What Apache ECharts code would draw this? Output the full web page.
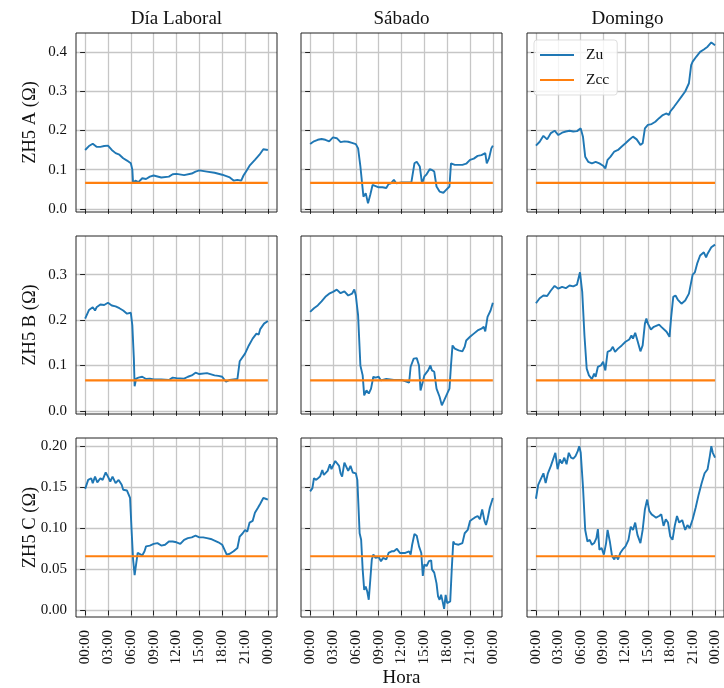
<!DOCTYPE html>
<html>
<head>
<meta charset="utf-8">
<script src="https://cdn.jsdelivr.net/npm/echarts@6/dist/echarts.min.js"></script>
<style>html,body{margin:0;padding:0;background:#fff}#c{width:724px;height:688px}</style>
</head>
<body>
<div id="c"></div>
<script>
// ---- data ----
const colTitles = ['Día Laboral', 'Sábado', 'Domingo'];
const rowLabels = ['ZH5 A (Ω)', 'ZH5 B (Ω)', 'ZH5 C (Ω)'];
const xTicks = [0, 3, 6, 9, 12, 15, 18, 21, 24];
const yTicksA = [0, 0.1, 0.2, 0.3, 0.4];
const yTicksB = [0, 0.1, 0.2, 0.3];
const yTicksC = [0, 0.05, 0.1, 0.15, 0.2];
const zccLevel = [0.066, 0.067, 0.066];

const zuA_lab = [[0,0.150],[0.5,0.160],[1,0.166],[1.5,0.158],[2,0.158],[2.5,0.160],[3,0.161],[3.5,0.150],[4,0.142],[4.5,0.138],[5,0.129],[5.5,0.123],[6,0.116],[6.2,0.100],[6.3,0.065],[6.6,0.072],[7,0.068],[7.5,0.078],[8,0.076],[8.5,0.082],[9,0.085],[10,0.080],[11,0.082],[11.5,0.088],[12,0.089],[13,0.086],[14,0.090],[14.5,0.095],[15,0.098],[16,0.095],[17,0.092],[18,0.087],[19,0.080],[19.5,0.072],[20,0.074],[20.5,0.072],[20.8,0.085],[21,0.091],[21.6,0.110],[22.3,0.125],[22.9,0.138],[23.4,0.152],[24,0.150]];
const zuA_sab = [[0,0.165],[0.5,0.172],[1,0.176],[1.5,0.178],[2,0.176],[2.5,0.172],[3,0.182],[3.5,0.180],[4,0.170],[4.2,0.165],[4.5,0.172],[5,0.171],[5.5,0.168],[6,0.165],[6.3,0.154],[6.6,0.108],[7,0.031],[7.3,0.040],[7.6,0.014],[7.9,0.036],[8.2,0.061],[8.6,0.058],[9,0.055],[9.5,0.055],[10,0.053],[10.3,0.063],[10.6,0.065],[11,0.074],[11.3,0.065],[12,0.067],[13,0.067],[13.3,0.068],[13.7,0.116],[14,0.120],[14.4,0.108],[14.7,0.064],[15,0.082],[15.3,0.088],[15.7,0.101],[16,0.099],[16.3,0.095],[16.6,0.057],[17,0.044],[17.5,0.041],[17.8,0.047],[18,0.048],[18.3,0.057],[18.5,0.116],[19,0.112],[19.5,0.112],[20,0.112],[20.5,0.115],[21,0.125],[21.5,0.128],[22,0.135],[22.5,0.137],[23,0.142],[23.2,0.116],[23.5,0.129],[23.8,0.154],[24,0.161]];
const zuA_dom = [[0,0.161],[0.5,0.171],[1,0.186],[1.5,0.177],[2,0.193],[2.5,0.199],[3,0.188],[3.5,0.194],[4,0.197],[4.5,0.199],[5,0.197],[5.5,0.198],[6,0.205],[6.3,0.184],[6.6,0.133],[7,0.120],[7.5,0.116],[8,0.120],[8.5,0.116],[9,0.110],[9.3,0.103],[9.6,0.125],[10,0.133],[10.5,0.146],[11,0.150],[11.5,0.159],[12,0.167],[12.5,0.176],[13,0.184],[13.5,0.177],[14,0.163],[14.3,0.167],[14.6,0.205],[15,0.214],[15.5,0.216],[16,0.222],[16.5,0.231],[17,0.239],[17.5,0.243],[17.8,0.239],[18,0.248],[18.5,0.260],[19,0.273],[19.5,0.286],[20,0.299],[20.5,0.320],[20.8,0.366],[21,0.375],[21.5,0.388],[22,0.400],[22.5,0.406],[23,0.413],[23.5,0.424],[24,0.417]];

const zuB_lab = [[0,0.203],[0.5,0.222],[1,0.228],[1.3,0.221],[1.5,0.228],[2,0.234],[2.5,0.233],[3,0.238],[3.5,0.232],[4,0.230],[4.5,0.226],[5,0.221],[5.5,0.214],[6,0.216],[6.2,0.188],[6.4,0.115],[6.5,0.054],[6.7,0.071],[7,0.073],[7.5,0.075],[8,0.070],[8.5,0.071],[9,0.069],[10,0.069],[11,0.068],[11.5,0.073],[12,0.072],[13,0.071],[13.5,0.075],[14,0.078],[14.5,0.084],[15,0.081],[16,0.083],[17,0.078],[17.5,0.077],[18,0.075],[18.5,0.064],[19,0.068],[19.5,0.069],[20,0.070],[20.3,0.109],[20.5,0.112],[21,0.126],[21.5,0.144],[22,0.159],[22.5,0.170],[22.8,0.168],[23,0.180],[23.5,0.192],[24,0.198]];
const zuB_sab = [[0,0.218],[0.5,0.226],[1,0.232],[1.5,0.241],[2,0.251],[2.5,0.258],[3,0.262],[3.5,0.267],[4,0.259],[4.5,0.263],[5,0.254],[5.5,0.258],[5.8,0.267],[6,0.254],[6.3,0.210],[6.6,0.100],[6.9,0.078],[7.1,0.034],[7.4,0.045],[7.7,0.038],[8,0.049],[8.3,0.075],[8.6,0.073],[9,0.075],[9.3,0.067],[10,0.070],[11,0.068],[12,0.068],[13,0.062],[13.2,0.097],[13.6,0.115],[14,0.116],[14.3,0.100],[14.5,0.045],[14.8,0.064],[15,0.078],[15.5,0.089],[15.8,0.100],[16,0.089],[16.3,0.086],[16.6,0.049],[17,0.031],[17.3,0.012],[17.6,0.023],[18,0.038],[18.3,0.049],[18.5,0.100],[18.7,0.144],[19,0.137],[19.5,0.133],[20,0.131],[20.3,0.141],[20.5,0.155],[21,0.163],[21.5,0.170],[22,0.177],[22.5,0.181],[22.8,0.185],[23,0.175],[23.3,0.207],[23.7,0.221],[24,0.238]];
const zuB_dom = [[0,0.237],[0.5,0.248],[1,0.254],[1.5,0.253],[2,0.265],[2.5,0.275],[3,0.269],[3.5,0.273],[4,0.270],[4.5,0.276],[5,0.274],[5.5,0.278],[5.9,0.305],[6.2,0.262],[6.5,0.166],[6.8,0.093],[7.1,0.078],[7.5,0.070],[7.8,0.082],[8,0.075],[8.3,0.097],[8.7,0.100],[9,0.108],[9.3,0.089],[9.6,0.130],[10,0.133],[10.3,0.141],[10.6,0.130],[11,0.137],[11.5,0.144],[12,0.152],[12.5,0.157],[12.8,0.166],[13,0.159],[13.3,0.172],[13.6,0.155],[14,0.131],[14.3,0.144],[14.6,0.192],[14.8,0.203],[15,0.192],[15.4,0.179],[15.8,0.185],[16,0.187],[16.5,0.190],[16.8,0.185],[17,0.187],[17.5,0.174],[17.9,0.163],[18.1,0.203],[18.4,0.251],[18.7,0.254],[19,0.245],[19.5,0.236],[20,0.243],[20.5,0.258],[21,0.300],[21.3,0.305],[21.6,0.324],[22,0.342],[22.5,0.349],[22.8,0.338],[23,0.346],[23.5,0.360],[24,0.366]];

const zuC_lab = [[0,0.148],[0.2,0.147],[0.4,0.159],[0.8,0.161],[1,0.155],[1.3,0.163],[1.6,0.156],[2,0.161],[2.3,0.159],[2.7,0.168],[3,0.163],[3.3,0.157],[3.6,0.163],[4,0.155],[4.4,0.159],[4.8,0.153],[5,0.147],[5.5,0.146],[5.9,0.137],[6.1,0.098],[6.3,0.062],[6.5,0.043],[6.7,0.041],[6.9,0.070],[7.1,0.068],[7.5,0.067],[7.8,0.072],[8,0.078],[8.5,0.079],[9,0.081],[9.5,0.082],[10,0.079],[10.5,0.080],[11,0.084],[11.5,0.084],[12,0.083],[12.5,0.081],[13,0.086],[13.5,0.088],[14,0.089],[14.5,0.091],[15,0.089],[15.5,0.089],[16,0.088],[16.5,0.087],[17,0.085],[17.5,0.083],[18,0.080],[18.3,0.074],[18.6,0.068],[19,0.069],[19.5,0.072],[20,0.076],[20.3,0.090],[20.7,0.094],[21,0.098],[21.3,0.096],[21.6,0.107],[22,0.109],[22.3,0.119],[22.7,0.125],[23,0.130],[23.4,0.137],[23.7,0.136],[24,0.135]];
const zuC_sab = [[0,0.145],[0.3,0.149],[0.5,0.161],[0.8,0.159],[1,0.160],[1.3,0.163],[1.6,0.171],[1.8,0.165],[2,0.164],[2.3,0.170],[2.6,0.178],[2.8,0.172],[3,0.176],[3.3,0.182],[3.5,0.183],[3.8,0.176],[4,0.167],[4.2,0.163],[4.5,0.180],[4.8,0.174],[5,0.170],[5.3,0.176],[5.6,0.168],[6,0.167],[6.2,0.159],[6.5,0.094],[6.7,0.086],[6.9,0.050],[7.1,0.025],[7.3,0.029],[7.5,0.023],[7.7,0.013],[7.9,0.037],[8.1,0.062],[8.3,0.068],[8.6,0.064],[9,0.065],[9.3,0.060],[9.6,0.064],[10,0.062],[10.3,0.070],[10.7,0.072],[11,0.072],[11.4,0.075],[11.8,0.070],[12,0.072],[12.5,0.070],[13,0.072],[13.2,0.068],[13.4,0.080],[13.7,0.093],[14,0.091],[14.3,0.078],[14.6,0.070],[14.8,0.042],[15,0.056],[15.3,0.054],[15.6,0.060],[15.9,0.061],[16,0.050],[16.3,0.046],[16.6,0.033],[16.8,0.017],[17,0.013],[17.2,0.019],[17.4,0.011],[17.6,0.002],[17.8,0.019],[18,0.009],[18.2,0.009],[18.4,0.011],[18.6,0.050],[18.8,0.084],[19,0.081],[19.5,0.080],[20,0.082],[20.3,0.094],[20.7,0.098],[21,0.109],[21.3,0.111],[21.6,0.113],[22,0.115],[22.3,0.111],[22.6,0.123],[22.9,0.109],[23.1,0.104],[23.3,0.111],[23.6,0.125],[24,0.137]];
const zuC_dom = [[0,0.136],[0.3,0.153],[0.6,0.159],[1,0.167],[1.3,0.155],[1.6,0.167],[2,0.176],[2.3,0.184],[2.6,0.192],[2.9,0.172],[3.2,0.184],[3.5,0.179],[3.8,0.186],[4.1,0.178],[4.4,0.192],[4.7,0.186],[5,0.185],[5.3,0.188],[5.6,0.194],[5.8,0.200],[6,0.192],[6.3,0.151],[6.6,0.098],[6.9,0.084],[7.2,0.086],[7.5,0.080],[7.8,0.082],[8.1,0.088],[8.3,0.099],[8.5,0.074],[8.8,0.076],[9.1,0.068],[9.4,0.082],[9.6,0.098],[9.9,0.084],[10.2,0.066],[10.5,0.062],[10.7,0.067],[11,0.062],[11.3,0.070],[11.6,0.074],[12,0.078],[12.4,0.086],[12.7,0.102],[13,0.098],[13.3,0.107],[13.6,0.092],[14,0.082],[14.3,0.098],[14.6,0.123],[14.9,0.135],[15.2,0.121],[15.5,0.117],[15.8,0.115],[16.1,0.113],[16.5,0.115],[16.8,0.117],[17.1,0.103],[17.4,0.111],[17.7,0.107],[18,0.090],[18.3,0.086],[18.6,0.103],[18.9,0.115],[19.2,0.107],[19.6,0.110],[20,0.098],[20.3,0.104],[20.6,0.100],[21,0.111],[21.4,0.125],[21.8,0.141],[22.2,0.155],[22.6,0.167],[23,0.172],[23.3,0.188],[23.5,0.200],[23.7,0.192],[24,0.186]];

const zuData = [[zuA_lab, zuA_sab, zuA_dom], [zuB_lab, zuB_sab, zuB_dom], [zuC_lab, zuC_sab, zuC_dom]];
const yTicks = [yTicksA, yTicksB, yTicksC];

// ---- layout ----
const FONT = "'Liberation Serif', 'DejaVu Serif', serif";
const colLeft = [76, 301, 527];
const rowTop = [33, 236, 438];
const rowH = [179, 178, 179];
const gridW = 201;
const yRange = [[-0.008, 0.448], [-0.007, 0.385], [-0.008, 0.21]];
const yDec = [1, 1, 2];
const xMin = -1.2, xMax = 25.2;

const grids = [], xAxes = [], yAxes = [], series = [];
const fmtHour = v => { const h = Math.round(v) % 24; return (h < 10 ? '0' : '') + h + ':00'; };

for (let r = 0; r < 3; r++) {
  for (let c = 0; c < 3; c++) {
    const i = r * 3 + c;
    grids.push({ left: colLeft[c], top: rowTop[r], width: gridW, height: rowH[r],
      show: true, borderColor: '#222', borderWidth: 1, backgroundColor: 'transparent', z: 3 });
    xAxes.push({
      type: 'value', gridIndex: i, min: xMin, max: xMax,
      axisLine: { show: false },
      axisTick: { show: true, customValues: xTicks, length: 5, lineStyle: { color: '#222', width: 1 } },
      axisLabel: { show: r === 2, customValues: xTicks, rotate: 90, margin: 13, formatter: fmtHour,
        fontFamily: FONT, fontSize: 15, color: '#111' },
      splitLine: { show: true, lineStyle: { color: '#c6c6c6', width: 1.3 } }
    });
    yAxes.push({
      type: 'value', gridIndex: i, min: yRange[r][0], max: yRange[r][1],
      axisLine: { show: false },
      axisTick: { show: true, customValues: yTicks[r], length: 5, lineStyle: { color: '#222', width: 1 } },
      axisLabel: { show: c === 0, customValues: yTicks[r], margin: 9, formatter: v => v.toFixed(yDec[r]),
        fontFamily: FONT, fontSize: 15, color: '#111' },
      splitLine: { show: true, lineStyle: { color: '#c6c6c6', width: 1.3 } }
    });
    series.push({
      name: 'Zu', type: 'line', xAxisIndex: i, yAxisIndex: i, data: zuData[r][c],
      showSymbol: false, symbol: 'none', smooth: false,
      lineStyle: { color: '#1f77b4', width: 1.9 }, itemStyle: { color: '#1f77b4' }, z: 4
    });
    series.push({
      name: 'Zcc', type: 'line', xAxisIndex: i, yAxisIndex: i,
      data: [[0, zccLevel[r]], [24, zccLevel[r]]],
      showSymbol: false, symbol: 'none',
      lineStyle: { color: '#ff7f0e', width: 2.2 }, itemStyle: { color: '#ff7f0e' }, z: 5
    });
  }
}

const graphics = [];
const colCenters = colLeft.map(l => l + gridW / 2);
colTitles.forEach((t, c) => graphics.push({
  type: 'text', x: colCenters[c], y: 19,
  style: { text: t, fontFamily: FONT, fontSize: 19, fill: '#111', textAlign: 'center', textVerticalAlign: 'middle' }
}));
rowLabels.forEach((t, r) => graphics.push({
  type: 'text', x: 30, y: rowTop[r] + rowH[r] / 2, rotation: Math.PI / 2,
  style: { text: t, fontFamily: FONT, fontSize: 18.5, fill: '#111', textAlign: 'center', textVerticalAlign: 'middle' }
}));
graphics.push({
  type: 'text', x: colCenters[1], y: 678,
  style: { text: 'Hora', fontFamily: FONT, fontSize: 19, fill: '#111', textAlign: 'center', textVerticalAlign: 'middle' }
});

const chart = echarts.init(document.getElementById('c'), null, { renderer: 'canvas' });
chart.setOption({
  animation: false,
  backgroundColor: '#fff',
  grid: grids, xAxis: xAxes, yAxis: yAxes, series: series,
  legend: {
    data: ['Zu', 'Zcc'], orient: 'vertical', left: 534, top: 40,
    icon: 'rect', itemWidth: 34, itemHeight: 2, itemGap: 7,
    padding: [6, 8, 6, 6],
    backgroundColor: 'rgba(255,255,255,0.8)', borderColor: 'rgba(214,214,214,0.8)', borderWidth: 1, borderRadius: 3,
    textStyle: { fontFamily: FONT, fontSize: 15.5, color: '#111', lineHeight: 18, padding: [0, 0, 0, 7] },
    selectedMode: false, z: 10
  },
  graphic: graphics
});
</script>
</body>
</html>
